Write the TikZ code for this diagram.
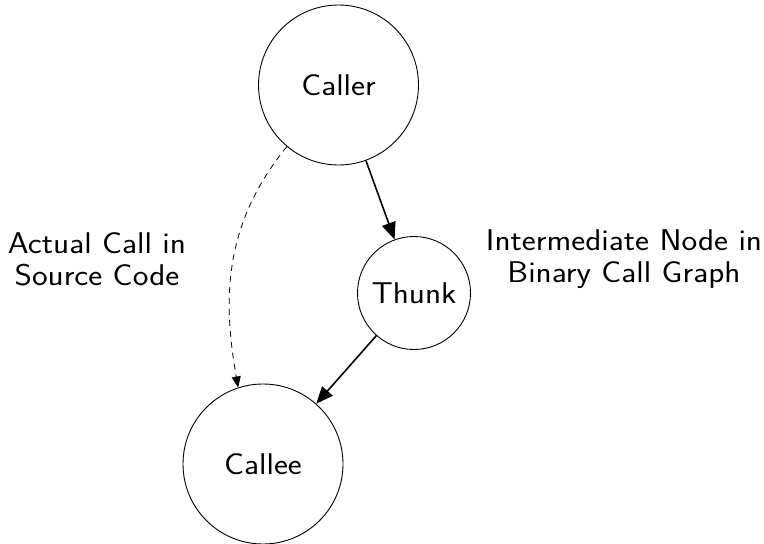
\documentclass[tikz,border=0pt]{standalone}
\usepackage{graphicx}
\usetikzlibrary{arrows.meta}
\newcommand\wtext[1]{\scalebox{1.11}[1]{#1}}
\begin{document}
\begin{tikzpicture}[x=1pt,y=-1pt,
  every node/.style={font=\sffamily\fontsize{30}{32}\selectfont},
  circ/.style={draw,circle,inner sep=0pt,line width=0.9pt},
  lbl/.style={align=center},
  solidarrow/.style={line width=1.6pt,-{Triangle[length=17pt,width=14pt]}},
  dasharrow/.style={line width=0.8pt,dash pattern=on 6pt off 5pt,-{Triangle[length=11pt,width=9pt]}}]
\useasboundingbox (0,0) rectangle (764,544);
\node[circ,minimum size=160pt] (caller) at (338.5,85) {\wtext{Caller}};
\node[circ,minimum size=113pt] (thunk) at (414,293) {\wtext{Thunk}};
\node[circ,minimum size=160pt] (callee) at (263,464) {\wtext{Callee}};
\node[lbl] (lab1) at (97,259) {\wtext{Actual Call in}\\\wtext{Source Code}};
\node[lbl] (lab2) at (624,259) {\wtext{Intermediate Node in}\\\wtext{Binary Call Graph}};
\draw[solidarrow] (caller) -- (thunk);
\draw[solidarrow] (thunk) -- (callee);
\draw[dasharrow] (caller.230) to[out=231,in=100] (callee.108);
\end{tikzpicture}
\end{document}
